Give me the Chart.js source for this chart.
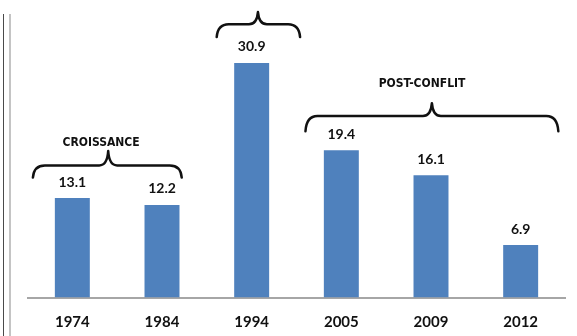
<!DOCTYPE html>
<html>
<head>
<meta charset="utf-8">
<script src="https://cdn.jsdelivr.net/npm/chart.js@4/dist/chart.umd.min.js"></script>
<style>
  html, body { margin: 0; padding: 0; background: #ffffff; }
  #wrap { width: 577px; height: 336px; position: relative; }
</style>
</head>
<body>
<div id="wrap"><canvas id="c"></canvas></div>
<script>
// Years on the horizontal axis and the value of each bar
const years = ['1974', '1984', '1994', '2005', '2009', '2012'];
const values = [13.1, 12.2, 30.9, 19.4, 16.1, 6.9];

// Period groups shown as curly braces above the bars
const groupLabels = ['CROISSANCE', '', 'POST-CONFLIT'];
// brace extents in category-index units
const groupFrom = [-0.44, 1.61, 2.6];
const groupTo = [1.22, 2.54, 5.42];
const groupTip = [0.4, 2.07, 4.01];
// brace heights in value units: line level, end hooks, tip
const groupLevel = [17.4, 36.0, 23.9];
const groupEnd = [15.8, 34.3, 21.9];
const groupPeak = [19.3, 37.6, 25.6];
// anchor of each period name (category index, value)
const groupLabelX = [0.32, 2.07, 3.9];
const groupLabelY = [20.35, 39, 28.1];

const NUM_FONT = '700 14px Lato, "Open Sans", sans-serif';
const GROUP_FONT = '700 12px "Liberation Sans Narrow", "Arial Narrow", "DejaVu Sans Condensed", sans-serif';

// value labels above each bar
const valueLabels = {
  id: 'valueLabels',
  afterDatasetsDraw(chart) {
    const ctx = chart.ctx;
    const meta = chart.getDatasetMeta(0);
    ctx.save();
    ctx.font = NUM_FONT;
    ctx.fillStyle = '#111111';
    ctx.textAlign = 'center';
    ctx.textBaseline = 'middle';
    meta.data.forEach((bar, i) => {
      ctx.fillText(values[i].toFixed(1), bar.x, bar.y - 16);
    });
    ctx.restore();
  }
};

// curly braces with their period names
const braces = {
  id: 'braces',
  afterDatasetsDraw(chart) {
    const ctx = chart.ctx;
    const xs = chart.scales.x, ys = chart.scales.y;
    const px = v => xs.getPixelForValue(0) + v * (xs.getPixelForValue(1) - xs.getPixelForValue(0));
    ctx.save();
    ctx.strokeStyle = '#111111';
    ctx.lineWidth = 2.5;
    ctx.lineCap = 'round';
    ctx.lineJoin = 'round';
    groupLabels.forEach((label, i) => {
      const x0 = px(groupFrom[i]), x1 = px(groupTo[i]), xt = px(groupTip[i]);
      const yH = ys.getPixelForValue(groupLevel[i]);
      const yE = ys.getPixelForValue(groupEnd[i]);
      const yT = ys.getPixelForValue(groupPeak[i]);
      const r = 12, r2 = 9;
      ctx.beginPath();
      ctx.moveTo(x0, yE);
      ctx.quadraticCurveTo(x0 + 1, yH, x0 + r, yH);
      ctx.lineTo(xt - r2, yH);
      ctx.quadraticCurveTo(xt - 1, yH, xt, yT);
      ctx.quadraticCurveTo(xt + 1, yH, xt + r2, yH);
      ctx.lineTo(x1 - r, yH);
      ctx.quadraticCurveTo(x1 - 1, yH, x1, yE);
      ctx.stroke();
      if (label) {
        ctx.font = GROUP_FONT;
        ctx.fillStyle = '#111111';
        ctx.textAlign = 'center';
        ctx.textBaseline = 'middle';
        ctx.fillText(label, px(groupLabelX[i]), ys.getPixelForValue(groupLabelY[i]));
      }
    });
    ctx.restore();
  }
};

// double rule along the left edge of the frame
const frameRule = {
  id: 'frameRule',
  afterDraw(chart) {
    const ctx = chart.ctx;
    ctx.save();
    ctx.fillStyle = '#4a4a4a';
    ctx.fillRect(3, 14, 1, 322);
    ctx.fillStyle = '#c4c4c4';
    ctx.fillRect(9, 14, 2, 322);
    ctx.restore();
  }
};

new Chart(document.getElementById('c'), {
  type: 'bar',
  data: {
    labels: years,
    datasets: [{
      data: values,
      backgroundColor: '#4F81BD',
      borderWidth: 0,
      categoryPercentage: 1,
      barPercentage: 0.39
    }]
  },
  options: {
    responsive: true,
    maintainAspectRatio: false,
    animation: false,
    layout: { padding: { left: 27.5, right: 11.5, top: 9, bottom: 0 } },
    plugins: { legend: { display: false }, tooltip: { enabled: false } },
    scales: {
      x: {
        grid: { display: false, drawTicks: false },
        border: { display: true, color: '#A6A6A6', width: 2 },
        ticks: { font: { family: 'Lato, "Open Sans", sans-serif', size: 15, weight: '700' }, color: '#111111', padding: 15.5 },
        afterFit(scale) { scale.height = 38.5; }
      },
      y: {
        display: false,
        min: 0,
        max: 38
      }
    }
  },
  plugins: [valueLabels, braces, frameRule]
});
</script>
</body>
</html>
